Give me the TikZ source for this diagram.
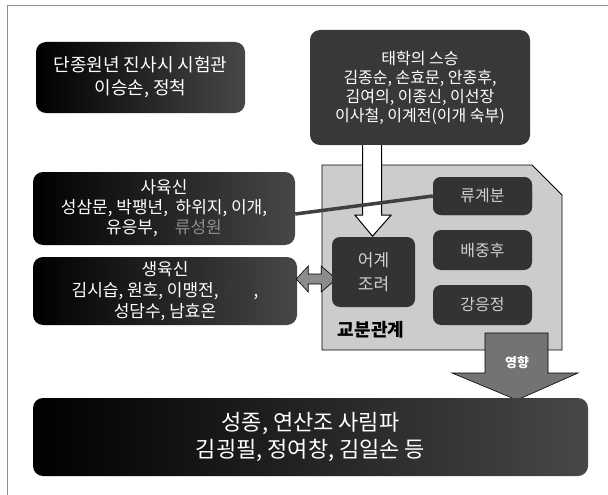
\documentclass[tikz,border=0pt]{standalone}
\usepackage{fontspec}
\setmainfont{Noto Sans CJK KR}
\usetikzlibrary{calc}
\begin{document}
\begin{tikzpicture}[x=1pt,y=-1pt,
  box/.style={rounded corners=10pt, inner sep=0pt, align=center, text=white},
  gradbox/.style={box, left color=black, right color=black!72},
  darkbox/.style={box, fill=black!78},
  innerbox/.style={rounded corners=8pt, inner sep=0pt, fill=black!80, text=black!18, align=center, font=\fontsize{16}{26}\selectfont},
  graypanel/.style={draw=black, line width=0.8pt, fill=black!20},
  hollowarrow/.style={draw=black, line width=1pt, fill=white},
  grayarrow/.style={draw=black, line width=0.6pt, fill=black!45},
  effectarrow/.style={draw=black, line width=0.6pt, fill=black!55},
  linkline/.style={draw=black!75, line width=3.5pt},
]
\useasboundingbox (0,0) rectangle (608,495);
\fill[white] (0,0) rectangle (608,495);
\draw[black!45, line width=1pt] (7,495) -- (7,6) -- (608,6);

% top boxes
\node[gradbox, minimum width=209pt, minimum height=71pt, font=\fontsize{18}{23}\selectfont]
  (exam) at (140.5,77.5) {단종원년 진사시 시험관\\이승손, 정척};
\node[darkbox, minimum width=220pt, minimum height=115pt, font=\fontsize{16}{19}\selectfont]
  (teach) at (420,87.5) {태학의 스승\\김종순, 손효문, 안종후,\\김여의, 이종신, 이선장\\이사철, 이계전(이개 숙부)};

% panel
\draw[graypanel] (322,165) -- (532,165) -- (562,195) -- (562,350) -- (322,350) -- cycle;

% left boxes
\node[gradbox, minimum width=262pt, minimum height=73pt, font=\fontsize{17}{20}\selectfont]
  (sayuk) at (164,208.5) {사육신\\성삼문, 박팽년,\ \ 하위지, 이개,\\유응부,\quad{\color{black!45}류성원}};
\node[gradbox, minimum width=264pt, minimum height=68pt, font=\fontsize{17}{21}\selectfont]
  (saeng) at (165,291) {생육신\\김시습, 원호, 이맹전, {\color{black!78}조려},\\성담수, 남효온};

% inner boxes
\node[innerbox, minimum width=99pt, minimum height=38pt] (ryu) at (482.5,196) {류계분};
\node[innerbox, minimum width=99pt, minimum height=40pt] (bae) at (482.5,250) {배중후};
\node[innerbox, minimum width=99pt, minimum height=40pt] (kang) at (482.5,305) {강응정};

% hollow arrow from teachers
\coordinate (ha) at ($(teach.south)+(-48,0)$);
\draw[hollowarrow] ($(ha)+(-9.5,0)$) -- ($(ha)+(-9.5,70)$) -- ($(ha)+(-17,70)$) -- ($(ha)+(0.5,91)$)
  -- ($(ha)+(19,70)$) -- ($(ha)+(9.5,70)$) -- ($(ha)+(9.5,0)$);

% link line
\draw[linkline] ($(sayuk.east)+(0,5.5)$) -- (ryu.west);
\node[innerbox, minimum width=99pt, minimum height=38pt] at (ryu) {류계분};

% double arrow
\coordinate (dl) at ($(saeng.east)+(-1,-12)$);
\draw[grayarrow] (dl) -- ++(12,-13) -- ++(0,8) -- ++(13,0) -- ++(0,-8) -- ++(15,13)
  -- ++(-15,13) -- ++(0,-8) -- ++(-13,0) -- ++(0,8) -- cycle;

\node[innerbox, minimum width=83pt, minimum height=70pt, font=\fontsize{17}{24}\selectfont]
  (eogye) at (373.5,272) {어계\\조려};

\node[font=\bfseries\fontsize{18}{20}\selectfont, inner sep=0pt] (rel) at (371,330) {교분관계};

% effect arrow
\draw[effectarrow] (485,333) -- (548,333) -- (548,373) -- (578,373) -- (517,400) -- (452,373) -- (485,373) -- cycle;
\node[font=\bfseries\fontsize{13}{15}\selectfont, text=white, inner sep=0pt] (eff) at (517,363) {영향};

% bottom box
\node[gradbox, minimum width=555pt, minimum height=78pt, font=\fontsize{22}{27}\selectfont]
  (sarim) at (310.5,437) {성종, 연산조 사림파\\김굉필, 정여창, 김일손 등};
\end{tikzpicture}
\end{document}
